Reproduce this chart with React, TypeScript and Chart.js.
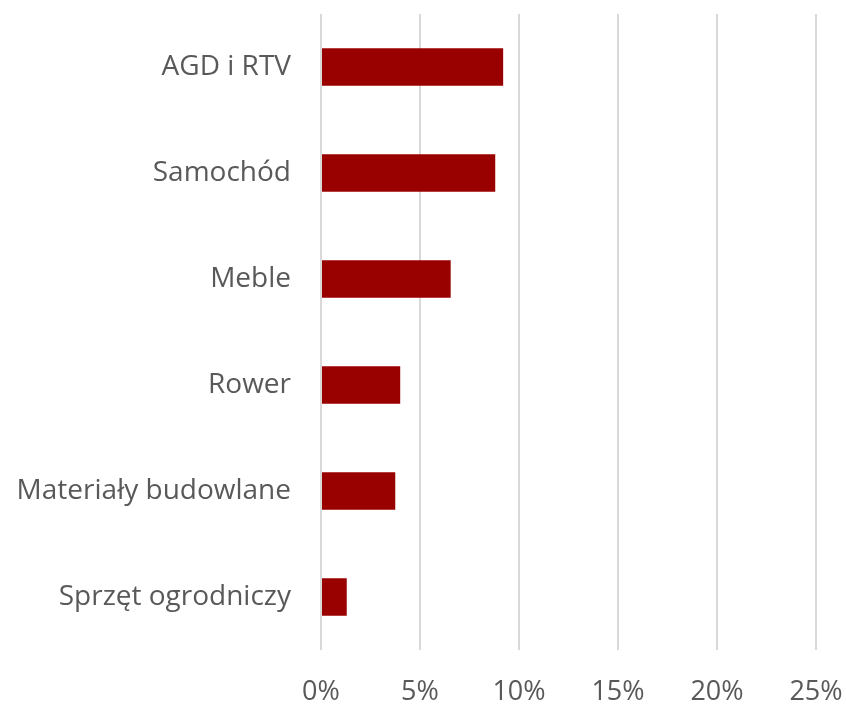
import React, { useEffect, useRef } from "react";
import { Chart, registerables } from "chart.js";

Chart.register(...registerables);

const categories = [
  "AGD i RTV",
  "Samochód",
  "Meble",
  "Rower",
  "Materiały budowlane",
  "Sprzęt ogrodniczy",
];
const values = [9.2, 8.8, 6.55, 4.0, 3.75, 1.3];
const xTicks = [0, 5, 10, 15, 20, 25];

const FONT = "'Open Sans', 'Liberation Sans', sans-serif";

export default function App() {
  const ref = useRef<HTMLCanvasElement | null>(null);
  useEffect(() => {
    if (!ref.current) return;
    const chart = new Chart(ref.current, {
      type: "bar",
      data: {
        labels: categories,
        datasets: [
          {
            data: values,
            backgroundColor: "#990000",
            barPercentage: 0.355,
            categoryPercentage: 1,
          },
        ],
      },
      options: {
        indexAxis: "y",
        animation: false,
        responsive: false,
        maintainAspectRatio: false,
        layout: { padding: { top: 13, right: 30, bottom: 0, left: 0 } },
        plugins: { legend: { display: false }, tooltip: { enabled: false } },
        scales: {
          x: {
            min: 0,
            max: 25,
            afterBuildTicks: (axis: any) => {
              axis.ticks = xTicks.map((v) => ({ value: v }));
            },
            afterFit: (axis: any) => {
              axis.height = 56;
            },
            grid: {
              color: "#d9d9d9",
              lineWidth: 2,
              drawTicks: true,
              tickLength: 29,
              tickColor: "rgba(0,0,0,0)",
            },
            border: { display: false },
            ticks: {
              padding: 0,
              color: "#595959",
              font: { family: FONT, size: 27, lineHeight: 1 },
              callback: (v: any) => v + "%",
            },
          },
          y: {
            afterFit: (axis: any) => {
              axis.width = 321;
            },
            grid: {
              display: true,
              color: "rgba(0,0,0,0)",
              drawTicks: true,
              tickLength: 30,
              tickColor: "rgba(0,0,0,0)",
            },
            border: { display: false },
            ticks: {
              padding: 0,
              color: "#595959",
              font: { family: FONT, size: 28, lineHeight: 1 },
            },
          },
        },
      },
    });
    return () => chart.destroy();
  }, []);
  return (
    <div style={{ position: "absolute", left: 0, top: 0, width: 846, height: 706 }}>
      <canvas ref={ref} width={846} height={706} style={{ width: 846, height: 706 }} />
    </div>
  );
}
